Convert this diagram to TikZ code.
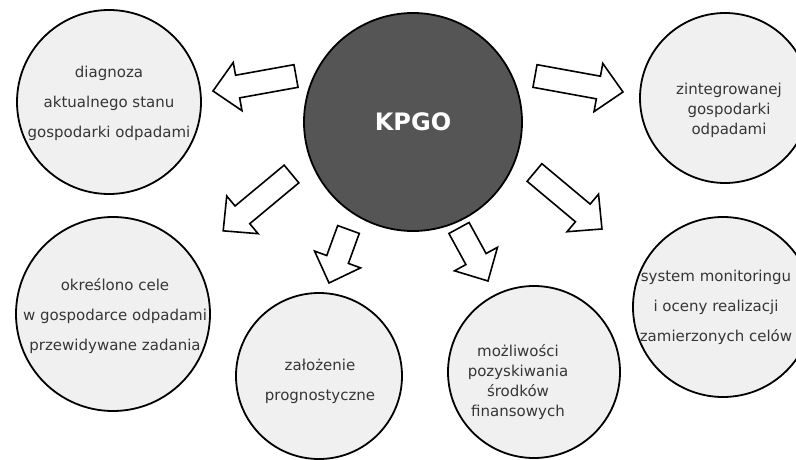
\documentclass[tikz,border=0pt]{standalone}
\usepackage{fontspec}
\setmainfont{DejaVu Sans}
\usetikzlibrary{calc}

\definecolor{bubblefill}{HTML}{F0F0F0}
\definecolor{corefill}{HTML}{555555}
\definecolor{inktext}{HTML}{363636}

\tikzset{
  bubble/.style={circle, draw=black, line width=1.8pt, fill=bubblefill, inner sep=0pt},
  core/.style={circle, draw=black, line width=1.8pt, fill=corefill, inner sep=0pt,
    text=white, font=\bfseries\fontsize{24}{28}\selectfont},
  widelines/.style={align=center, text=inktext, inner sep=0pt, font=\fontsize{15}{30}\selectfont},
  tightlines/.style={align=center, text=inktext, inner sep=0pt, font=\fontsize{15}{20}\selectfont},
  blockarr/.style={draw=black, fill=white, line width=1.6pt, line join=miter},
}

% hollow block arrow from coordinate #1 (tail) to coordinate #2 (tip)
\newcommand{\blockarrow}[2]{%
  \pgfpointanchor{#1}{center}\pgfgetlastxy{\baxa}{\baya}%
  \pgfpointanchor{#2}{center}\pgfgetlastxy{\baxb}{\bayb}%
  \pgfmathsetmacro\baang{atan2(\bayb-\baya,\baxb-\baxa)}%
  \pgfmathsetmacro\balen{veclen(\baxb-\baxa,\bayb-\baya)}%
  \draw[blockarr, shift={(\baxa,\baya)}, rotate=\baang]
    (0,-11.5) -- ({\balen-25},-11.5) -- ({\balen-25},-24.5) -- (\balen,0)
    -- ({\balen-25},24.5) -- ({\balen-25},11.5) -- (0,11.5) -- cycle;
}

\begin{document}
\begin{tikzpicture}[x=1pt,y=-1pt]
\useasboundingbox (0,0) rectangle (796,460);
\clip (0,0) rectangle (796,460);
\fill[white] (0,0) rectangle (796,460);

% central circle
\node[core, minimum size=218pt] (kpgo) at (413,122) {KPGO};

% surrounding circles
\node[bubble, minimum size=184pt] (diag) at (109,102) {};
\node[widelines] (diagtxt) at (109,103) {diagnoza\\aktualnego stanu\\gospodarki odpadami};

\node[bubble, minimum size=170pt] (zint) at (725,98) {};
\node[tightlines] (zinttxt) at (729,110) {zintegrowanej\\gospodarki\\odpadami};

\node[bubble, minimum size=194pt] (cele) at (113,314) {};
\node[widelines] (celetxt) at (115,316) {określono cele\\w gospodarce odpadami\\przewidywane zadania};

\node[bubble, minimum size=166pt] (prog) at (319,376) {};
\node[widelines] (progtxt) at (320,381) {założenie\\prognostyczne};

\node[bubble, minimum size=172pt] (fin) at (534,372) {};
\node[tightlines] (fintxt) at (518,382) {możliwości\\pozyskiwania\\środków\\finansowych};

\node[bubble, minimum size=180pt] (moni) at (723,307) {};
\node[widelines] (monitxt) at (716,307) {system monitoringu\\i oceny realizacji\\zamierzonych celów};

% arrow end points
\coordinate (a1s) at (296,76);    \coordinate (a1e) at (213,91);
\coordinate (a2s) at (535,76);    \coordinate (a2e) at (623,92);
\coordinate (a3s) at (291.5,174); \coordinate (a3e) at (223,231);
\coordinate (a4s) at (534.5,172.5); \coordinate (a4e) at (602,229);
\coordinate (a5s) at (348.5,229.5); \coordinate (a5e) at (329,283);
\coordinate (a6s) at (459,228);   \coordinate (a6e) at (488,281);

\blockarrow{a1s}{a1e}
\blockarrow{a2s}{a2e}
\blockarrow{a3s}{a3e}
\blockarrow{a4s}{a4e}
\blockarrow{a5s}{a5e}
\blockarrow{a6s}{a6e}
\end{tikzpicture}
\end{document}
